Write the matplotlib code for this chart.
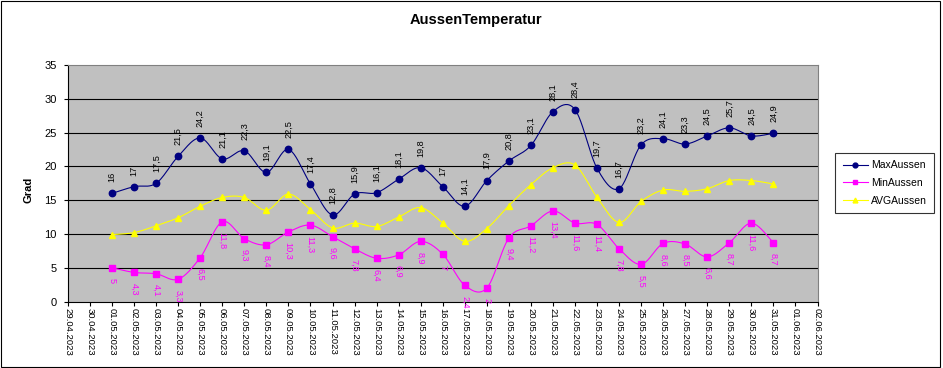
import numpy as np
import pandas as pd
import matplotlib
matplotlib.use("Agg")
import matplotlib.pyplot as plt
from matplotlib.lines import Line2D
from matplotlib.patches import Rectangle

plt.rcParams['font.family'] = ['Liberation Sans', 'DejaVu Sans']

# ---- data ----
axis_start = "2023-04-29"
axis_end = "2023-06-02"
data_start = "2023-05-01"
max_aussen = [16, 17, 17.5, 21.5, 24.2, 21.1, 22.3, 19.1, 22.5, 17.4, 12.8, 15.9, 16.1, 18.1, 19.8, 17,
              14.1, 17.9, 20.8, 23.1, 28.1, 28.4, 19.7, 16.7, 23.2, 24.1, 23.3, 24.5, 25.7, 24.5, 24.9]
min_aussen = [5, 4.3, 4.1, 3.3, 6.5, 11.8, 9.3, 8.4, 10.3, 11.3, 9.6, 7.8, 6.4, 6.9, 8.9, 7,
              2.4, 2, 9.4, 11.2, 13.4, 11.6, 11.4, 7.8, 5.5, 8.6, 8.5, 6.6, 8.7, 11.6, 8.7]
avg_aussen = [9.9, 10.2, 11.2, 12.4, 14.1, 15.4, 15.4, 13.5, 15.9, 13.6, 10.9, 11.6, 11.1, 12.5, 13.9, 11.6,
              8.9, 10.8, 14.2, 17.3, 19.8, 20.2, 15.4, 11.7, 14.8, 16.5, 16.3, 16.7, 17.9, 17.9, 17.4]
series_names = ["MaxAussen", "MinAussen", "AVGAussen"]
y_ticks = [0, 5, 10, 15, 20, 25, 30, 35]

axis_dates = pd.date_range(axis_start, axis_end, freq="D")
tick_labels = [d.strftime("%d.%m.%Y") for d in axis_dates]
data_dates = pd.date_range(data_start, periods=len(max_aussen), freq="D")
x = np.array([(d - axis_dates[0]).days for d in data_dates], dtype=float)


def smooth(xs, ys, n=24):
    P = np.column_stack([xs, ys]).astype(float)
    out = [P[0]]
    m = len(P)
    t = np.linspace(0, 1, n)[1:, None]
    for i in range(m - 1):
        p0 = P[i - 1] if i > 0 else P[i]
        p1 = P[i]
        p2 = P[i + 1]
        p3 = P[i + 2] if i + 2 < m else P[i + 1]
        c1 = p1 + (p2 - p0) / 6.0
        c2 = p2 - (p3 - p1) / 6.0
        seg = ((1 - t) ** 3) * p1 + 3 * ((1 - t) ** 2) * t * c1 + 3 * (1 - t) * t ** 2 * c2 + t ** 3 * p2
        out.extend(seg)
    out = np.array(out)
    return out[:, 0], out[:, 1]


def fmt(v):
    if float(v).is_integer():
        return str(int(v))
    return f"{v:.1f}".replace(".", ",")


W, H = 943, 368
fig = plt.figure(figsize=(W / 100, H / 100), dpi=100)
fig.patch.set_facecolor("white")

L, R, T, B = 68, 817.5, 65, 301.5
ax = fig.add_axes([L / W, 1 - B / H, (R - L) / W, (B - T) / H])
ax.set_facecolor("#C0C0C0")
ax.set_xlim(0, len(axis_dates) - 1)
ax.set_ylim(0, 35)

for v in y_ticks[1:-1]:
    ax.axhline(v, color="black", lw=0.8, zorder=1)

for s in ["top", "right"]:
    ax.spines[s].set_color("#808080")
    ax.spines[s].set_linewidth(0.8)
for s in ["left", "bottom"]:
    ax.spines[s].set_color("black")
    ax.spines[s].set_linewidth(0.8)

ax.set_yticks(y_ticks)
ax.set_yticklabels([str(v) for v in y_ticks], fontsize=8)
ax.set_xticks(np.arange(len(axis_dates)))
ax.set_xticklabels(tick_labels, rotation=270, fontsize=6.8, va="top", ha="center")
ax.tick_params(axis="y", direction="out", length=3, width=0.8, pad=5)
ax.tick_params(axis="x", direction="out", length=3, width=0.8, pad=2)

colors = ["#000080", "#FF00FF", "#FFFF00"]
markers = ["o", "s", "^"]
series = [max_aussen, min_aussen, avg_aussen]

for ys, c, mk, nm in zip(series, colors, markers, series_names):
    sx, sy = smooth(x, ys)
    ax.plot(sx, sy, color=c, lw=0.8, zorder=3, clip_on=False)
    ax.plot(x, ys, linestyle="none", marker=mk, color=c, markersize=4.6, zorder=4, clip_on=False)

for xi, v in zip(x, max_aussen):
    ax.annotate(fmt(v), (xi, v), xytext=(0, 8), textcoords="offset points",
                rotation=90, ha="center", va="bottom", fontsize=6.6, color="black", zorder=5)
for xi, v in zip(x, min_aussen):
    ax.annotate(fmt(v), (xi, v), xytext=(0, -7.5), textcoords="offset points",
                rotation=270, ha="center", va="top", fontsize=6.6, color="#FF00FF", zorder=5,
                annotation_clip=False)

fig.text(476 / W, 1 - 20 / H, "AussenTemperatur", ha="center", va="center",
         fontsize=10.5, fontweight="bold")
fig.text(28 / W, 1 - 190 / H, "Grad", ha="center", va="center", rotation=90,
         fontsize=8, fontweight="bold")

handles = [Line2D([0], [0], color=c, lw=0.8, marker=mk, markersize=3.5)
           for c, mk in zip(colors, markers)]
leg = fig.legend(handles, series_names, loc="center", bbox_to_anchor=(884.5 / W, 1 - 183 / H),
                 fontsize=7.5, frameon=True, fancybox=False, edgecolor="black",
                 handlelength=2.4, handletextpad=0.3, labelspacing=0.75, borderpad=0.7,
                 borderaxespad=0)
leg.get_frame().set_linewidth(0.8)

fig.patches.append(Rectangle((0.5 / W, 1.5 / H), 939.5 / W, 366 / H, transform=fig.transFigure,
                             fill=False, edgecolor="black", lw=0.8))

fig.savefig("out.png", dpi=100)
